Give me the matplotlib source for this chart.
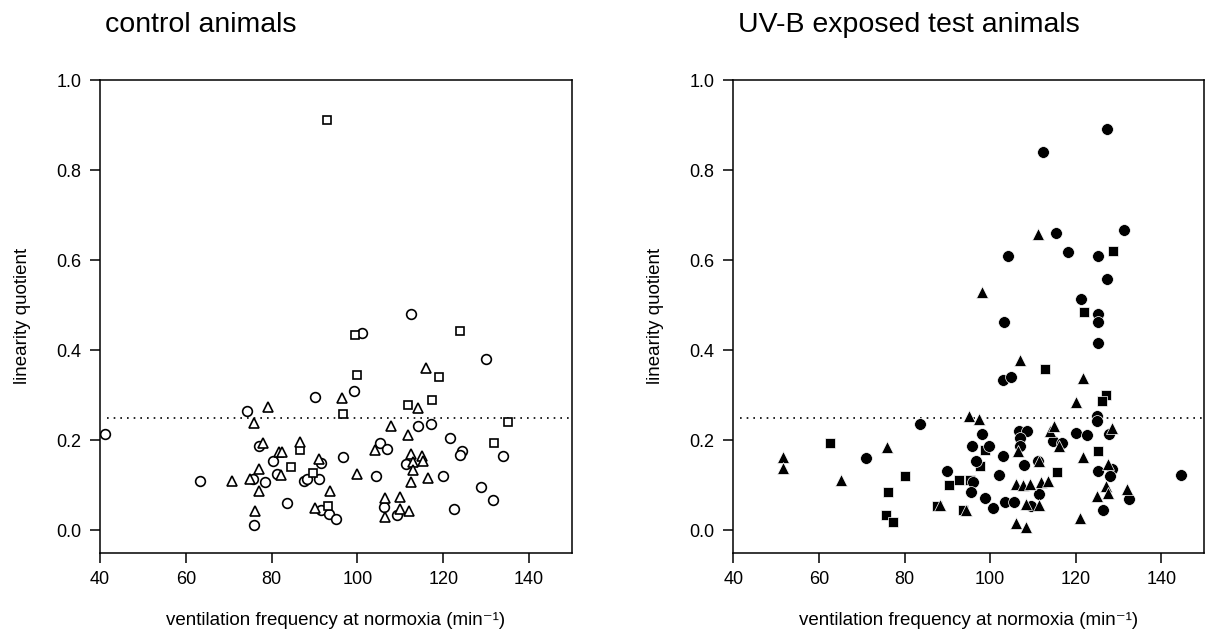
import numpy as np
import matplotlib.pyplot as plt

plt.rcParams['font.family'] = ['Liberation Sans', 'DejaVu Sans']
plt.rcParams['mathtext.default'] = 'regular'

# control animals (open symbols)
ctrl_circ_x = [41.2, 63.3, 74.3, 77.0, 80.3, 75.6, 78.5, 81.2, 83.6, 75.8, 87.6, 88.2, 91.0, 91.6,
               90.0, 91.6, 93.4, 95.0, 96.6, 99.2, 101.0, 104.3, 105.3, 106.8, 106.2, 109.2, 112.4,
               114.0, 117.1, 111.3, 119.9, 121.6, 124.3, 124.0, 122.5, 130.0, 133.9, 128.8, 131.7]
ctrl_circ_y = [0.213, 0.109, 0.265, 0.187, 0.154, 0.113, 0.107, 0.124, 0.061, 0.012, 0.110, 0.113,
               0.114, 0.150, 0.295, 0.044, 0.037, 0.025, 0.163, 0.310, 0.439, 0.121, 0.194, 0.180,
               0.052, 0.033, 0.480, 0.232, 0.235, 0.147, 0.121, 0.204, 0.176, 0.166, 0.047, 0.381,
               0.164, 0.095, 0.068]
ctrl_tri_x = [79.1, 76.0, 77.9, 77.1, 70.8, 75.0, 77.1, 76.2, 81.8, 82.4, 82.1, 86.5, 91.0, 93.5,
              90.0, 96.3, 100.0, 104.1, 107.8, 106.4, 106.4, 109.8, 109.9, 112.1, 114.1, 111.8,
              115.9, 112.5, 113.0, 112.9, 112.5, 115.0, 115.2, 116.5]
ctrl_tri_y = [0.274, 0.237, 0.194, 0.137, 0.109, 0.113, 0.087, 0.042, 0.174, 0.174, 0.123, 0.196,
              0.158, 0.088, 0.050, 0.293, 0.125, 0.178, 0.232, 0.072, 0.030, 0.073, 0.047, 0.043,
              0.272, 0.212, 0.361, 0.169, 0.152, 0.133, 0.107, 0.164, 0.154, 0.115]
ctrl_sq_x = [86.5, 84.5, 89.6, 93.2, 92.8, 96.6, 100.0, 99.4, 111.8, 119.0, 117.3, 124.0, 135.0, 131.8]
ctrl_sq_y = [0.178, 0.141, 0.127, 0.054, 0.912, 0.258, 0.344, 0.433, 0.277, 0.341, 0.289, 0.443,
             0.241, 0.194]

# UV-B exposed animals (filled symbols)
uv_circ_x = [112.3, 127.3, 115.3, 104.1, 118.2, 125.2, 131.2, 127.3, 121.2, 125.2, 125.2, 103.2,
             125.2, 102.9, 105.0, 125.1, 125.1, 83.6, 70.9, 98.1, 106.8, 108.7, 107.1, 106.9, 114.8,
             116.7, 120.0, 122.6, 127.9, 95.8, 99.7, 103.1, 96.7, 108.0, 111.1, 90.0, 102.0, 95.9,
             95.6, 98.9, 100.6, 103.6, 105.5, 109.5, 111.4, 125.2, 128.5, 128.1, 126.3, 132.5, 144.5]
uv_circ_y = [0.840, 0.891, 0.660, 0.608, 0.617, 0.608, 0.666, 0.557, 0.514, 0.481, 0.463, 0.463,
             0.416, 0.333, 0.340, 0.254, 0.242, 0.236, 0.160, 0.214, 0.220, 0.220, 0.205, 0.187,
             0.198, 0.194, 0.216, 0.212, 0.213, 0.187, 0.187, 0.164, 0.153, 0.144, 0.153, 0.132,
             0.122, 0.106, 0.084, 0.071, 0.049, 0.062, 0.062, 0.053, 0.081, 0.132, 0.135, 0.120,
             0.044, 0.070, 0.122]
uv_tri_x = [111.1, 98.2, 106.9, 121.6, 120.0, 95.0, 97.5, 106.6, 114.0, 115.0, 116.2, 128.4, 121.8,
            111.4, 108.5, 111.5, 106.1, 107.8, 109.4, 111.9, 113.6, 106.1, 108.5, 121.0, 88.3, 94.4,
            127.5, 127.1, 127.6, 125.1, 132.1, 51.5, 51.5, 65.1, 76.0]
uv_tri_y = [0.658, 0.529, 0.377, 0.339, 0.284, 0.254, 0.247, 0.175, 0.220, 0.231, 0.187, 0.226,
            0.163, 0.153, 0.058, 0.056, 0.102, 0.100, 0.103, 0.107, 0.109, 0.016, 0.007, 0.028,
            0.055, 0.044, 0.146, 0.099, 0.083, 0.076, 0.091, 0.163, 0.138, 0.111, 0.185]
uv_sq_x = [128.8, 122.0, 112.8, 127.2, 126.1, 125.2, 98.9, 97.6, 92.7, 95.2, 90.5, 80.0, 115.6, 87.5,
           93.6, 62.5, 76.1, 75.6, 77.2]
uv_sq_y = [0.620, 0.485, 0.359, 0.300, 0.288, 0.175, 0.177, 0.142, 0.111, 0.111, 0.100, 0.120,
           0.129, 0.053, 0.044, 0.194, 0.085, 0.034, 0.018]

threshold = 0.25
xticks = [40, 60, 80, 100, 120, 140]
yticks = [0.0, 0.2, 0.4, 0.6, 0.8, 1.0]

fig = plt.figure(figsize=(12.05, 6.36), dpi=100)
ax1 = fig.add_axes([0.0830, 0.1310, 0.3917, 0.7432])
ax2 = fig.add_axes([0.6086, 0.1310, 0.3906, 0.7432])


def style(ax):
    ax.set_xlim(40, 150)
    ax.set_ylim(-0.05, 1.0)
    ax.set_xticks(xticks)
    ax.set_yticks(yticks)
    ax.set_yticklabels([f'{v:.1f}' for v in yticks])
    ax.tick_params(direction='out', length=7.5, width=1.1, labelsize=13, pad=6)
    for s in ax.spines.values():
        s.set_linewidth(1.1)
    ax.axhline(threshold, xmin=0.015, color='black', lw=1.2, ls=(0, (1, 3)), zorder=1)
    ax.set_xlabel('ventilation frequency at normoxia (min⁻¹)', fontsize=13.5, labelpad=17)
    ax.set_ylabel('linearity quotient', fontsize=13.5, labelpad=18)


style(ax1)
style(ax2)

ms = 7
ax1.plot(ctrl_circ_x, ctrl_circ_y, 'o', ms=ms, mfc='white', mec='black', mew=1.2, zorder=3)
ax1.plot(ctrl_sq_x, ctrl_sq_y, 's', ms=ms - 1, mfc='white', mec='black', mew=1.2, zorder=3)
ax1.plot(ctrl_tri_x, ctrl_tri_y, '^', ms=ms, mfc='white', mec='black', mew=1.2, zorder=3)

ax2.plot(uv_sq_x, uv_sq_y, 's', ms=ms + 0.5, mfc='black', mec='white', mew=0.5, zorder=3)
ax2.plot(uv_circ_x, uv_circ_y, 'o', ms=ms + 1.5, mfc='black', mec='white', mew=0.5, zorder=3)
ax2.plot(uv_tri_x, uv_tri_y, '^', ms=ms + 1, mfc='black', mec='white', mew=0.5, zorder=3)

fig.text(105 / 1205, 1 - 31.5 / 636, 'control animals', fontsize=20.5, ha='left', va='baseline')
fig.text(738 / 1205, 1 - 31.5 / 636, 'UV-B exposed test animals', fontsize=20.5, ha='left', va='baseline')

fig.savefig('out.png', dpi=100)
